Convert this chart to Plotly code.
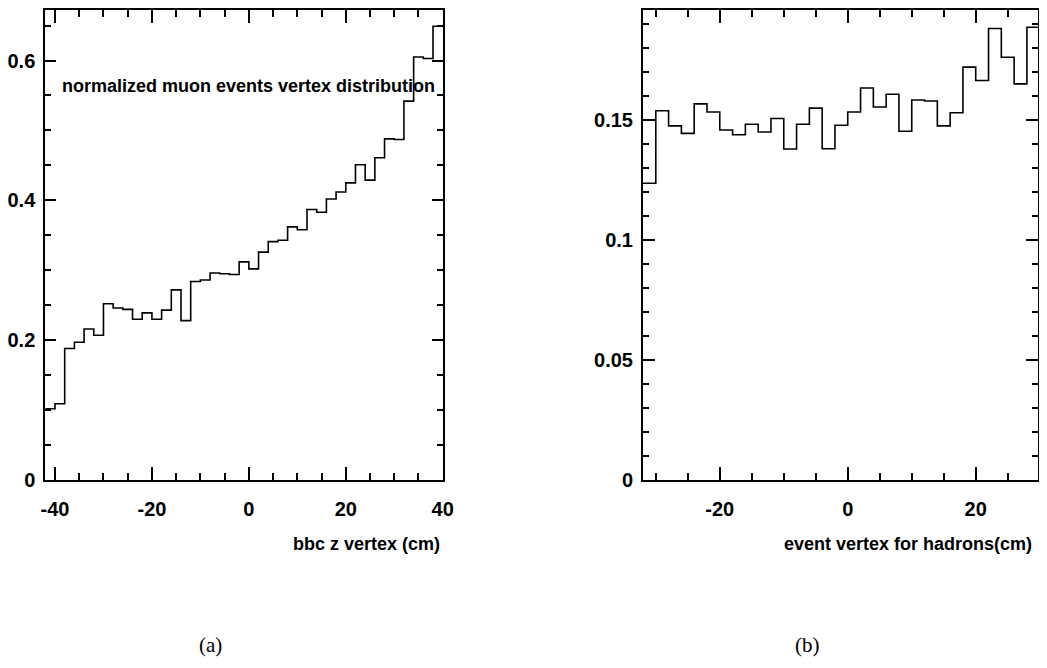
import plotly.graph_objects as go

# ---- data: left panel (muon events, bbc z vertex) ----
left_edges = list(range(-42, 41, 2))  # 41 bins of width 2 cm
left_vals = [0.102, 0.109, 0.188, 0.197, 0.216, 0.207, 0.252, 0.246, 0.244, 0.230,
             0.239, 0.230, 0.243, 0.272, 0.228, 0.284, 0.286, 0.296, 0.295, 0.294,
             0.312, 0.302, 0.326, 0.341, 0.343, 0.362, 0.358, 0.387, 0.383, 0.402,
             0.412, 0.425, 0.451, 0.429, 0.461, 0.488, 0.487, 0.542, 0.605, 0.603,
             0.649]

# ---- data: right panel (hadron events vertex) ----
right_edges = list(range(-32, 31, 2))  # 31 bins of width 2 cm
right_vals = [0.1236, 0.1538, 0.1475, 0.1444, 0.1567, 0.1533, 0.1458, 0.1438, 0.1482, 0.1450,
              0.1506, 0.1379, 0.1482, 0.1549, 0.1380, 0.1478, 0.1533, 0.1633, 0.1554, 0.1607,
              0.1453, 0.1583, 0.1579, 0.1475, 0.1530, 0.1720, 0.1664, 0.1881, 0.1761, 0.1650,
              0.1886]

left_xticks = [-40, -20, 0, 20, 40]
left_yticks = [0, 0.2, 0.4, 0.6]
left_ylabels = ["0", "0.2", "0.4", "0.6"]
right_xticks = [-20, 0, 20]
right_yticks = [0, 0.05, 0.1, 0.15]
right_ylabels = ["0", "0.05", "0.1", "0.15"]

# page has an 8px body margin; figure fits inside the 1047x668 window
OFF = 8
W, H = 1047 - 2 * OFF, 668 - 2 * OFF
FONT = "Liberation Sans, Arial, sans-serif"


def px_x(p):
    return min(1.0, max(0.0, (p - OFF) / W))


def px_y(p):
    return min(1.0, max(0.0, 1 - (p - OFF) / H))


def step_xy(edges, vals):
    return list(edges), list(vals) + [vals[-1]]


fig = go.Figure()
lx, ly = step_xy(left_edges, left_vals)
rx, ry = step_xy(right_edges, right_vals)
fig.add_trace(go.Scatter(x=lx, y=ly, mode="lines", line=dict(shape="hv", color="black", width=1.6),
                         xaxis="x", yaxis="y", showlegend=False, hoverinfo="skip"))
fig.add_trace(go.Scatter(x=rx, y=ry, mode="lines", line=dict(shape="hv", color="black", width=1.6),
                         xaxis="x2", yaxis="y2", showlegend=False, hoverinfo="skip"))

tickfont = dict(family=FONT, size=20, color="black", weight="bold")
common = dict(showline=True, linecolor="black", linewidth=2, mirror="ticks", ticks="inside",
              tickcolor="black", tickwidth=1.5, showgrid=False, zeroline=False,
              tickfont=tickfont, automargin=False)
xminor = dict(ticks="inside", dtick=5, tick0=0, ticklen=7, tickcolor="black", tickwidth=1.5)

fig.update_layout(
    width=W, height=H, margin=dict(l=0, r=0, t=0, b=0),
    paper_bgcolor="white", plot_bgcolor="white",
    xaxis=dict(domain=[px_x(45.3), px_x(442.7)], range=[-42, 40], anchor="y",
               tickvals=left_xticks, ticktext=[str(v) for v in left_xticks], ticklen=13,
               minor=xminor, ticklabelstandoff=10, **common),
    yaxis=dict(domain=[px_y(480), px_y(9.5)], range=[0, 0.673], anchor="x",
               tickvals=left_yticks, ticktext=left_ylabels, ticklen=11,
               minor=dict(ticks="inside", dtick=0.05, tick0=0, ticklen=6, tickcolor="black", tickwidth=1.5),
               ticklabelstandoff=4, **common),
    xaxis2=dict(domain=[px_x(643.0), px_x(1037.8)], range=[-32, 29.7], anchor="y2",
                tickvals=right_xticks, ticktext=[str(v) for v in right_xticks], ticklen=13,
                minor=xminor, ticklabelstandoff=10, **common),
    yaxis2=dict(domain=[px_y(480), px_y(9.5)], range=[0, 0.196], anchor="x2",
                tickvals=right_yticks, ticktext=right_ylabels, ticklen=12,
                minor=dict(ticks="inside", dtick=0.01, tick0=0, ticklen=6, tickcolor="black", tickwidth=1.5),
                ticklabelstandoff=4, **common),
)

ann_font = dict(family=FONT, size=18, color="black", weight="bold")
fig.add_annotation(text="normalized muon events vertex distribution", xref="paper", yref="paper",
                   x=px_x(60), y=px_y(86), xanchor="left", yanchor="middle", showarrow=False,
                   font=ann_font)
fig.add_annotation(text="bbc z vertex (cm)", xref="paper", yref="paper",
                   x=px_x(442), y=px_y(544), xanchor="right", yanchor="middle", showarrow=False,
                   font=ann_font)
fig.add_annotation(text="event vertex for hadrons(cm)", xref="paper", yref="paper",
                   x=px_x(1034), y=px_y(544), xanchor="right", yanchor="middle", showarrow=False,
                   font=ann_font)

cap_font = dict(family="Liberation Serif, DejaVu Serif, serif", size=21, color="black")
fig.add_annotation(text="(a)", xref="paper", yref="paper", x=px_x(210.5), y=px_y(645),
                   xanchor="center", yanchor="middle", showarrow=False, font=cap_font)
fig.add_annotation(text="(b)", xref="paper", yref="paper", x=px_x(807.5), y=px_y(645),
                   xanchor="center", yanchor="middle", showarrow=False, font=cap_font)

fig.write_html("out.html")
